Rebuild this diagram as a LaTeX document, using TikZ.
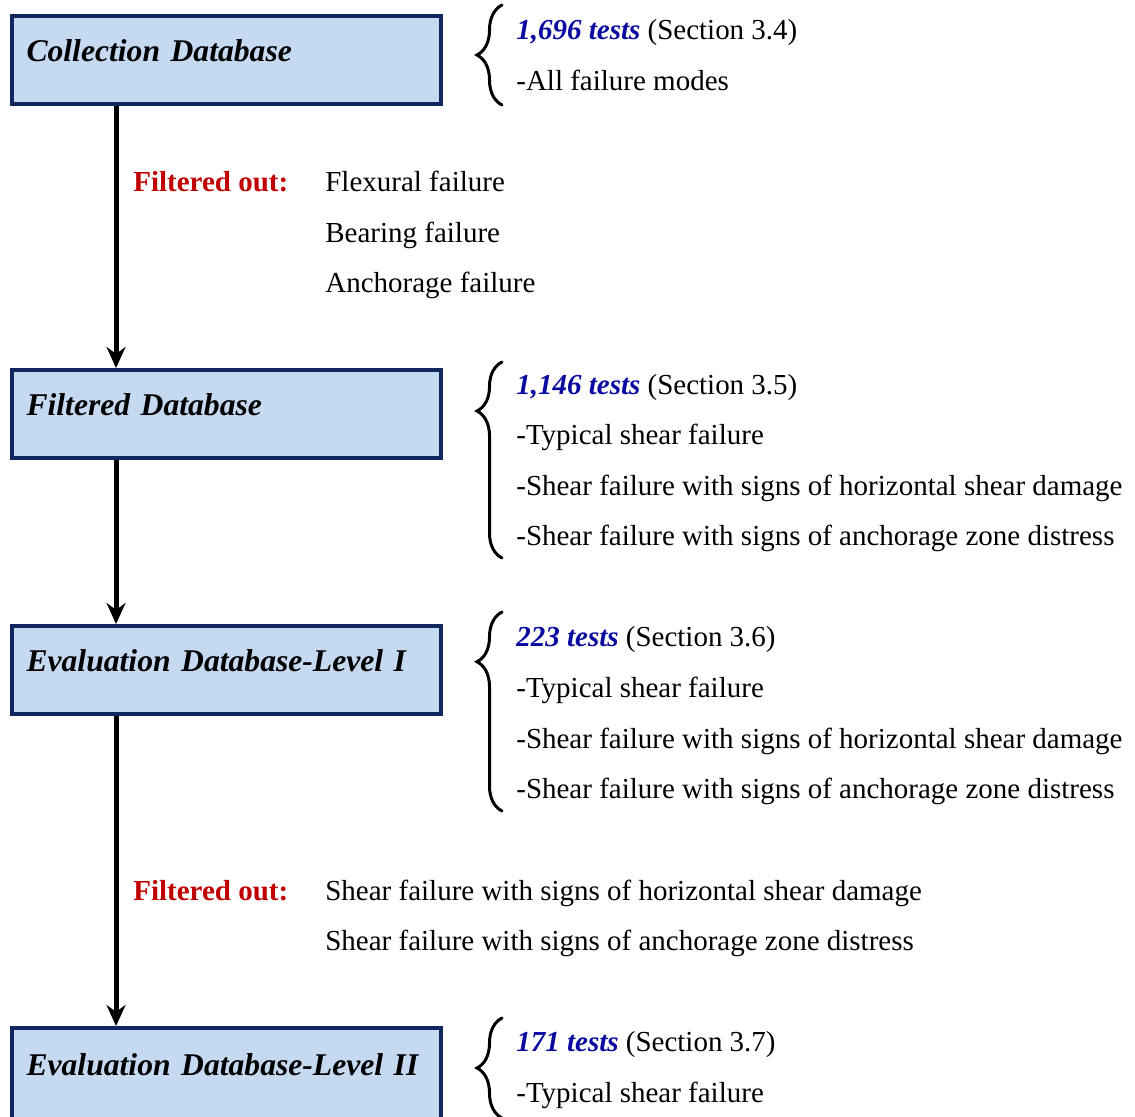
\documentclass[tikz,border=0pt]{standalone}
\usepackage{fontspec}
\setmainfont{Liberation Serif}
\usepackage{xcolor}
\usepackage{tikz}
\usetikzlibrary{calc,arrows.meta,decorations.pathreplacing}
\definecolor{dbfill}{HTML}{C5D9F1}
\definecolor{dbline}{HTML}{10265E}
\definecolor{countblue}{HTML}{0A0AA0}
\definecolor{filtred}{HTML}{C00000}
\newcommand{\tcount}[1]{\textcolor{countblue}{\bfseries\itshape #1}}
\tikzset{
  % --- database stages ---
  dbbox/.style={draw=dbline, line width=0.08cm, fill=dbfill, rectangle,
                minimum height=1.76cm, text width=8.0cm, inner xsep=0.29cm,
                align=left, text height=0.55em, text depth=0.4em,
                font=\fontsize{18}{20}\selectfont\bfseries\itshape},
  dbflow/.style={line width=0.1cm, -{Stealth[length=0.42cm,width=0.38cm]}},
  % --- notes beside the stages ---
  infotext/.style={anchor=base west, inner sep=0pt,
                   font=\fontsize{16.5}{20}\selectfont},
  filtlabel/.style={infotext, text=filtred,
                    font=\fontsize{16.5}{20}\selectfont\bfseries},
  infobrace/.style={decorate, decoration={brace, amplitude=0.5cm},
                    line width=1.7pt, line cap=round},
}
\begin{document}
\begin{tikzpicture}[x=0.02cm, y=-0.02cm]
  \useasboundingbox (0,0) rectangle (1135,1116);

  % stages, top to bottom (the last one runs off the page)
  \node[dbbox] (coll)  at (226.5,60)   {Collection Database};
  \node[dbbox] (filt)  at (226.5,414)  {Filtered Database};
  \node[dbbox] (eval1) at (226.5,670)  {Evaluation Database-Level I};
  \node[dbbox, minimum height=1.96cm, text depth=0.715em]
              (eval2) at (226.5,1077) {Evaluation Database-Level II};

  \draw[dbflow] ($(coll.south west)+(106,0)$)  -- ($(filt.north west)+(106,0)$);
  \draw[dbflow] ($(filt.south west)+(106,0)$)  -- ($(eval1.north west)+(106,0)$);
  \draw[dbflow] ($(eval1.south west)+(106,0)$) -- ($(eval2.north west)+(106,0)$);

  % what each stage holds
  \node[infotext] (c1) at (516,39) {\tcount{1,696 tests} (Section 3.4)};
  \node[infotext] (c2) at (516,90) {-All failure modes};

  \node[infotext] (f1) at (516,394) {\tcount{1,146 tests} (Section 3.5)};
  \node[infotext] (f2) at (516,444) {-Typical shear failure};
  \node[infotext] (f3) at (516,495) {-Shear failure with signs of horizontal shear damage};
  \node[infotext] (f4) at (516,545) {-Shear failure with signs of anchorage zone distress};

  \node[infotext] (e1) at (516,646) {\tcount{223 tests} (Section 3.6)};
  \node[infotext] (e2) at (516,697) {-Typical shear failure};
  \node[infotext] (e3) at (516,748) {-Shear failure with signs of horizontal shear damage};
  \node[infotext] (e4) at (516,798) {-Shear failure with signs of anchorage zone distress};

  \node[infotext] (v1) at (516,1051) {\tcount{171 tests} (Section 3.7)};
  \node[infotext] (v2) at (516,1102) {-Typical shear failure};

  \draw[infobrace] ($(c2.base west)+(-14,15)$) -- ($(c1.base west)+(-14,-34)$);
  \draw[infobrace, decoration={aspect=0.75}]
        ($(f4.base west)+(-14,13)$) -- ($(f1.base west)+(-14,-32)$);
  \draw[infobrace, decoration={aspect=0.75}]
        ($(e4.base west)+(-14,13)$) -- ($(e1.base west)+(-14,-34)$);
  \draw[infobrace] ($(v2.base west)+(-14,16)$) -- ($(v1.base west)+(-14,-33)$);

  % removed between stages
  \node[filtlabel] (out1) at (133,191) {Filtered out:};
  \node[infotext] (o11) at (325,191) {Flexural failure};
  \node[infotext] (o12) at (325,242) {Bearing failure};
  \node[infotext] (o13) at (325,292) {Anchorage failure};

  \node[filtlabel] (out2) at (133,900) {Filtered out:};
  \node[infotext] (o21) at (325,900) {Shear failure with signs of horizontal shear damage};
  \node[infotext] (o22) at (325,950) {Shear failure with signs of anchorage zone distress};
\end{tikzpicture}
\end{document}
